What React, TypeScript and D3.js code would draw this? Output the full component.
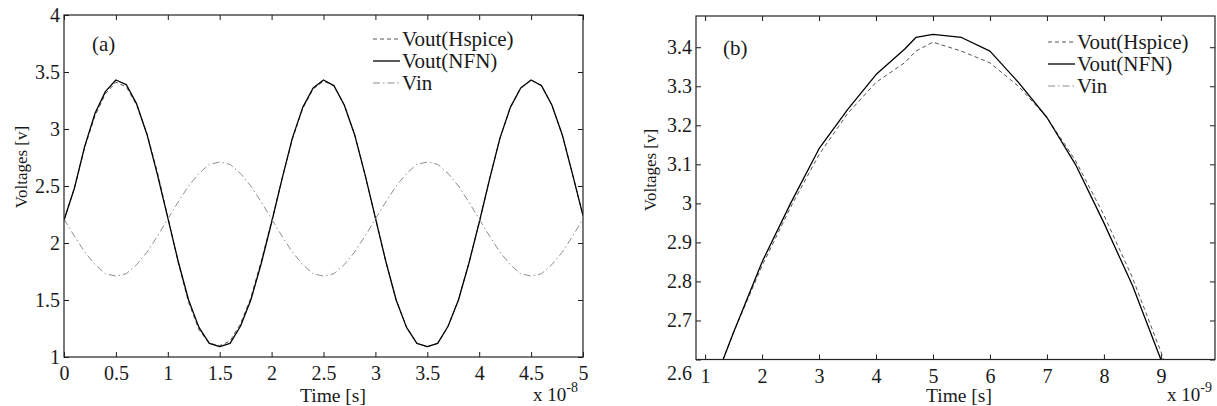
import * as d3 from 'd3';
import { useEffect, useRef } from 'react';

const W = 1217;
const H = 406;
const FONT = '"Liberation Serif", "DejaVu Serif", serif';

// panel (a): time in units of 1e-8 s
const timeA = [
  0, 0.1, 0.2, 0.3, 0.4, 0.5, 0.6, 0.7, 0.8, 0.9, 1.0,
  1.1, 1.2, 1.3, 1.4, 1.5, 1.6, 1.7, 1.8, 1.9, 2.0,
  2.1, 2.2, 2.3, 2.4, 2.5, 2.6, 2.7, 2.8, 2.9, 3.0,
  3.1, 3.2, 3.3, 3.4, 3.5, 3.6, 3.7, 3.8, 3.9, 4.0,
  4.1, 4.2, 4.3, 4.4, 4.5, 4.6, 4.7, 4.8, 4.9, 5.0
];
const nfnA = [
  2.20, 2.48, 2.85, 3.14, 3.33, 3.43, 3.39, 3.22, 2.95, 2.60, 2.22,
  1.84, 1.50, 1.26, 1.12, 1.09, 1.12, 1.27, 1.50, 1.82, 2.18,
  2.56, 2.92, 3.19, 3.36, 3.43, 3.38, 3.21, 2.95, 2.60, 2.22,
  1.84, 1.50, 1.26, 1.12, 1.09, 1.12, 1.27, 1.50, 1.82, 2.18,
  2.56, 2.92, 3.19, 3.36, 3.43, 3.38, 3.21, 2.95, 2.60, 2.24
];
const hspiceA = [
  2.20, 2.48, 2.84, 3.12, 3.31, 3.41, 3.37, 3.21, 2.96, 2.62, 2.23,
  1.83, 1.48, 1.24, 1.12, 1.10, 1.14, 1.29, 1.52, 1.84, 2.19,
  2.56, 2.91, 3.18, 3.35, 3.42, 3.38, 3.21, 2.95, 2.60, 2.22,
  1.84, 1.50, 1.26, 1.12, 1.09, 1.12, 1.27, 1.50, 1.82, 2.18,
  2.56, 2.92, 3.19, 3.36, 3.43, 3.38, 3.21, 2.95, 2.60, 2.24
];
const vinA = [
  2.21, 2.06, 1.92, 1.81, 1.73, 1.71, 1.73, 1.81, 1.92, 2.06, 2.21,
  2.36, 2.50, 2.61, 2.69, 2.71, 2.69, 2.61, 2.50, 2.36, 2.21,
  2.06, 1.92, 1.81, 1.73, 1.71, 1.73, 1.81, 1.92, 2.06, 2.21,
  2.36, 2.50, 2.61, 2.69, 2.71, 2.69, 2.61, 2.50, 2.36, 2.21,
  2.06, 1.92, 1.81, 1.73, 1.71, 1.73, 1.81, 1.92, 2.06, 2.21
];

// panel (b): zoom on the first peak, time in units of 1e-9 s
const timeB = [1, 1.5, 2, 2.5, 3, 3.5, 4, 4.5, 4.7, 5, 5.5, 6, 6.5, 7, 7.5, 8, 8.5, 9, 9.5];
const nfnB = [2.48, 2.67, 2.85, 3.00, 3.14, 3.24, 3.33, 3.395, 3.425, 3.433, 3.425, 3.39, 3.31, 3.22, 3.10, 2.95, 2.79, 2.60, 2.38];
const hspiceB = [2.48, 2.67, 2.84, 2.99, 3.125, 3.23, 3.31, 3.36, 3.39, 3.413, 3.39, 3.36, 3.30, 3.22, 3.11, 2.97, 2.81, 2.62, 2.40];

const xTicksA = [0, 0.5, 1, 1.5, 2, 2.5, 3, 3.5, 4, 4.5, 5];
const yTicksA = [1, 1.5, 2, 2.5, 3, 3.5, 4];
const xTicksB = [1, 2, 3, 4, 5, 6, 7, 8, 9];
const yTicksB = [2.6, 2.7, 2.8, 2.9, 3, 3.1, 3.2, 3.3, 3.4];

const legendNames = ['Vout(Hspice)', 'Vout(NFN)', 'Vin'];
const lineStyles = [
  { color: '#555555', width: 1, dash: '4,3' },
  { color: '#000000', width: 1.3, dash: null },
  { color: '#8e8e8e', width: 1, dash: '7,3,1.5,3' }
];

const panels = [
  {
    id: 'a', left: 64, right: 583, top: 15, bottom: 357,
    xDomain: [0, 5], yDomain: [1, 4], xTicks: xTicksA, yTicks: yTicksA, yLabelTicks: yTicksA,
    series: [
      { t: timeA, v: hspiceA, s: 0 },
      { t: timeA, v: nfnA, s: 1 },
      { t: timeA, v: vinA, s: 2 }
    ],
    tag: '(a)', tagX: 92, tagY: 51,
    legX: 373, legY: [46, 68, 90],
    yLabX: 27, yLabY: 167, xLabX: 333, exp: '-8', expX: 533
  },
  {
    id: 'b', left: 696, right: 1215, top: 16, bottom: 359.5,
    xDomain: [0.84, 9.95], yDomain: [2.6, 3.48], xTicks: xTicksB, yTicks: yTicksB,
    yLabelTicks: yTicksB.slice(1),
    series: [
      { t: timeB, v: hspiceB, s: 0 },
      { t: timeB, v: nfnB, s: 1 },
      { t: timeA.map(d => d * 10), v: vinA, s: 2 }
    ],
    tag: '(b)', tagX: 723, tagY: 55,
    legX: 1048, legY: [49, 71, 93],
    yLabX: 656, yLabY: 170, xLabX: 959, exp: '-9', expX: 1167
  }
];

function drawPanel(svg, p) {
  const x = d3.scaleLinear().domain(p.xDomain).range([p.left, p.right]);
  const y = d3.scaleLinear().domain(p.yDomain).range([p.bottom, p.top]);
  const ink = '#1a1a1a';

  const clipId = `clip-${p.id}`;
  svg.append('clipPath').attr('id', clipId)
    .append('rect')
    .attr('x', p.left).attr('y', p.top)
    .attr('width', p.right - p.left).attr('height', p.bottom - p.top);

  const lines = svg.append('g').attr('clip-path', `url(#${clipId})`);
  p.series.forEach(ser => {
    const st = lineStyles[ser.s];
    const line = d3.line<number>().x((_, i) => x(ser.t[i])).y(d => y(d));
    lines.append('path')
      .attr('d', line(ser.v))
      .attr('fill', 'none')
      .attr('stroke', st.color)
      .attr('stroke-width', st.width)
      .attr('stroke-dasharray', st.dash)
      .attr('stroke-linejoin', 'round');
  });

  const style = (g) => {
    g.select('.domain').remove();
    g.attr('font-family', FONT).attr('font-size', 20);
    g.selectAll('line').attr('stroke', ink);
    g.selectAll('text').attr('fill', ink);
  };

  svg.append('g')
    .attr('transform', `translate(0,${p.bottom})`)
    .call(d3.axisBottom(x).tickValues(p.xTicks).tickSizeInner(-5).tickSizeOuter(0)
      .tickPadding(9).tickFormat(d => String(d)))
    .call(style);
  svg.append('g')
    .attr('transform', `translate(0,${p.top})`)
    .call(d3.axisTop(x).tickValues(p.xTicks).tickSizeInner(-5).tickSizeOuter(0).tickFormat(() => ''))
    .call(style);
  svg.append('g')
    .attr('transform', `translate(${p.left},0)`)
    .call(d3.axisLeft(y).tickValues(p.yTicks).tickSizeInner(-5).tickSizeOuter(0)
      .tickPadding(4).tickFormat(d => (p.yLabelTicks.includes(d) ? String(d) : '')))
    .call(style);
  svg.append('g')
    .attr('transform', `translate(${p.right},0)`)
    .call(d3.axisRight(y).tickValues(p.yTicks).tickSizeInner(-5).tickSizeOuter(0).tickFormat(() => ''))
    .call(style);

  // MATLAB puts the lowest y label of (b) on the x label row
  if (p.id === 'b') {
    svg.append('text')
      .attr('x', p.left - 4).attr('y', 380)
      .attr('text-anchor', 'end')
      .attr('font-family', FONT).attr('font-size', 20).attr('fill', ink)
      .text(String(yTicksB[0]));
  }

  svg.append('rect')
    .attr('x', p.left).attr('y', p.top)
    .attr('width', p.right - p.left).attr('height', p.bottom - p.top)
    .attr('fill', 'none').attr('stroke', '#222').attr('stroke-width', 1.2);

  const txt = svg.append('g').attr('font-family', FONT).attr('fill', ink);

  txt.append('text')
    .attr('x', p.tagX).attr('y', p.tagY)
    .attr('font-size', 21)
    .text(p.tag);

  txt.append('text')
    .attr('transform', `translate(${p.yLabX},${p.yLabY}) rotate(-90)`)
    .attr('text-anchor', 'middle')
    .attr('font-size', 17)
    .text('Voltages [v]');

  txt.append('text')
    .attr('x', p.xLabX).attr('y', 402)
    .attr('text-anchor', 'middle')
    .attr('font-size', 19.5)
    .text('Time [s]');

  const ex = txt.append('text')
    .attr('x', p.expX).attr('y', 401)
    .attr('font-size', 19);
  ex.append('tspan').text('x 10');
  ex.append('tspan').attr('dy', -9).attr('font-size', 14).text(p.exp);

  legendNames.forEach((name, i) => {
    const st = lineStyles[i];
    const ly = p.legY[i];
    svg.append('line')
      .attr('x1', p.legX).attr('x2', p.legX + 27)
      .attr('y1', ly - 7).attr('y2', ly - 7)
      .attr('stroke', st.color)
      .attr('stroke-width', st.width)
      .attr('stroke-dasharray', st.dash);
    txt.append('text')
      .attr('x', p.legX + 29).attr('y', ly)
      .attr('font-size', 21)
      .text(name);
  });
}

function App() {
  const ref = useRef(null);

  useEffect(() => {
    const svg = d3.select(ref.current);
    svg.selectAll('*').remove();
    svg.append('rect').attr('width', W).attr('height', H).attr('fill', '#fff');
    panels.forEach(p => drawPanel(svg, p));
  }, []);

  return (
    <svg
      ref={ref}
      width={W}
      height={H}
      style={{ position: 'absolute', left: 0, top: 0, display: 'block' }}
    />
  );
}

export default App;
